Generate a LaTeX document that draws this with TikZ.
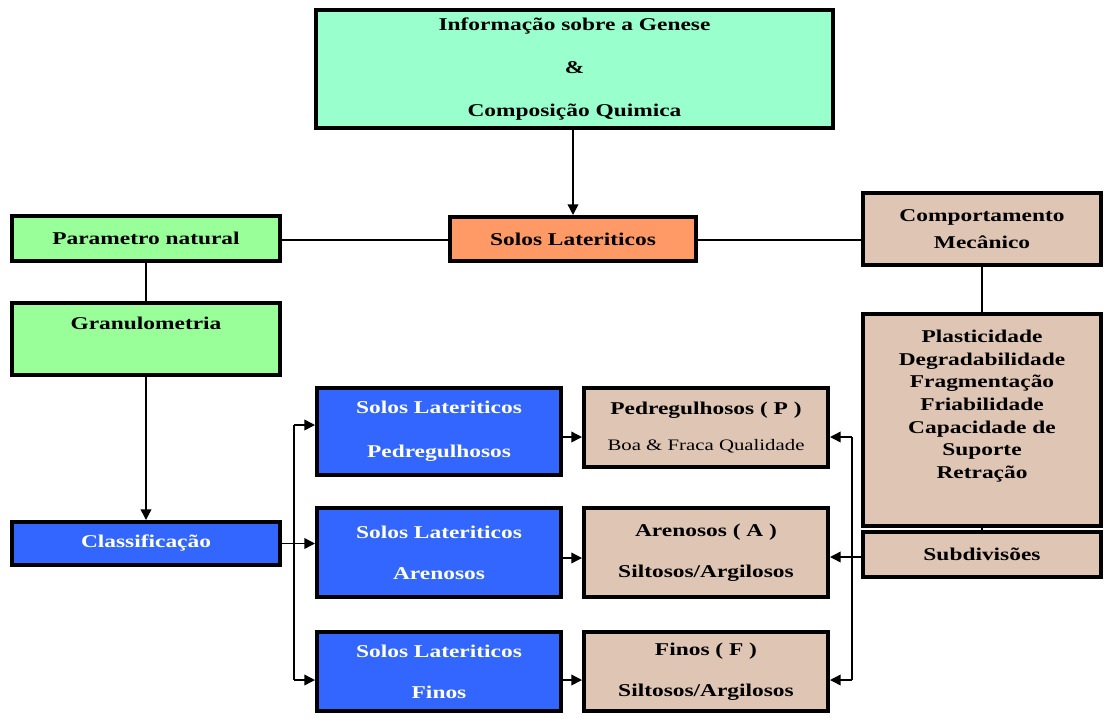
\documentclass[tikz,border=0pt]{standalone}
\usepackage{fontspec}
\setmainfont{Liberation Serif}[FakeStretch=1.3]
\usetikzlibrary{arrows.meta}
\definecolor{mint}{RGB}{153,255,204}
\definecolor{lgreen}{RGB}{153,255,153}
\definecolor{orng}{RGB}{255,153,102}
\definecolor{bblue}{RGB}{51,102,255}
\definecolor{beige}{RGB}{222,197,180}
\definecolor{cream}{RGB}{255,255,238}
\tikzset{
  box/.style={draw=black, line width=3pt, inner sep=0pt, align=center, text=black},
  fnt/.style={font=\bfseries\fontsize{13.5}{#1}\selectfont},
  fnt/.default=20,
  conn/.style={line width=1.1pt, draw=black},
  arr/.style={conn, -{Triangle[length=8pt,width=8pt]}},
}
\newcommand\bx[8]{\node[box, #6, minimum width={(#4-#2)*0.75pt}, minimum height={(#5-#3)*0.75pt}] (#1) at ({(#2+#4)/2},{(#3+#5)/2}) {#7};}
\begin{document}
\begin{tikzpicture}[x=0.75pt,y=-0.75pt]
\useasboundingbox (0,0) rectangle (1105,718);
% boxes
\bx{top}{316}{10}{833}{128}{fill=mint, fnt=32}{Informação sobre a Genese\\\&\\Composição Quimica}{}
\bx{param}{12}{216}{280}{261}{fill=lgreen, fnt}{Parametro natural}{}
\bx{solos}{450}{217}{696}{261}{fill=orng, fnt}{Solos Lateriticos}{}
\bx{comp}{863}{193}{1101}{265}{fill=beige, fnt=20}{Comportamento\\Mecânico}{}
\bx{big}{863}{314}{1101}{526}{fill=beige}{}{}
\node[fnt=17, align=center] (bigtxt) at (982,406) {Plasticidade\\Degradabilidade\\Fragmentação\\Friabilidade\\Capacidade de\\Suporte\\Retração};
\bx{sub}{863}{532}{1101}{577}{fill=beige, fnt}{Subdivisões}{}
\bx{gran}{12}{303}{280}{375}{fill=lgreen}{}{}
\node[fnt] (grantxt) at (146,323) {Granulometria};
\bx{class}{12}{522}{280}{565}{fill=bblue, fnt, text=cream}{Classificação}{}
\bx{b1}{317}{388}{561}{475}{fill=bblue, fnt=33, text=cream}{Solos Lateriticos\\Pedregulhosos}{}
\bx{b2}{317}{508}{561}{597}{fill=bblue, fnt=31, text=cream}{Solos Lateriticos\\Arenosos}{}
\bx{b3}{317}{632}{561}{711}{fill=bblue, fnt=31, text=cream}{Solos Lateriticos\\Finos}{}
\bx{p}{584}{388}{828}{467}{fill=beige, fnt=27}{Pedregulhosos ( P )\\{\mdseries\fontsize{12}{27}\selectfont Boa \& Fraca Qualidade}}{}
\bx{a}{584}{508}{828}{597}{fill=beige, fnt=31}{Arenosos ( A )\\Siltosos/Argilosos}{}
\bx{f}{584}{632}{828}{711}{fill=beige, fnt=31}{Finos ( F )\\Siltosos/Argilosos}{}
% coordinates for junctions
\coordinate (lj1) at (294,425);
\coordinate (lj3) at (294,680);
\coordinate (rj1) at (852,437);
\coordinate (rj3) at (852,680);
% connectors
\draw[arr] (solos.north |- top.south) -- (solos.north);
\draw[conn] (param.east |- 0,240) -- (solos.west |- 0,240);
\draw[conn] (solos.east |- 0,240) -- (comp.west |- 0,240);
\draw[conn] (comp.south) -- (big.north);
\draw[conn] (big.south) -- (sub.north);
\draw[conn] (param.south) -- (gran.north);
\draw[arr] (gran.south) -- (class.north);
\draw[arr] (class.east) -- (b2.west |- class.east);
\draw[conn] (lj1) -- (lj3);
\draw[arr] (lj1) -- (b1.west |- lj1);
\draw[arr] (lj3) -- (b3.west |- lj3);
\draw[arr] (b1.east |- 0,437) -- (p.west |- 0,437);
\draw[arr] (b2.east |- 0,558) -- (a.west |- 0,558);
\draw[arr] (b3.east |- 0,680) -- (f.west |- 0,680);
\draw[conn] (rj1) -- (rj3);
\draw[arr] (rj1) -- (p.east |- rj1);
\draw[arr] (sub.west |- 0,557) -- (a.east |- 0,557);
\draw[arr] (rj3) -- (f.east |- rj3);
\end{tikzpicture}
\end{document}
